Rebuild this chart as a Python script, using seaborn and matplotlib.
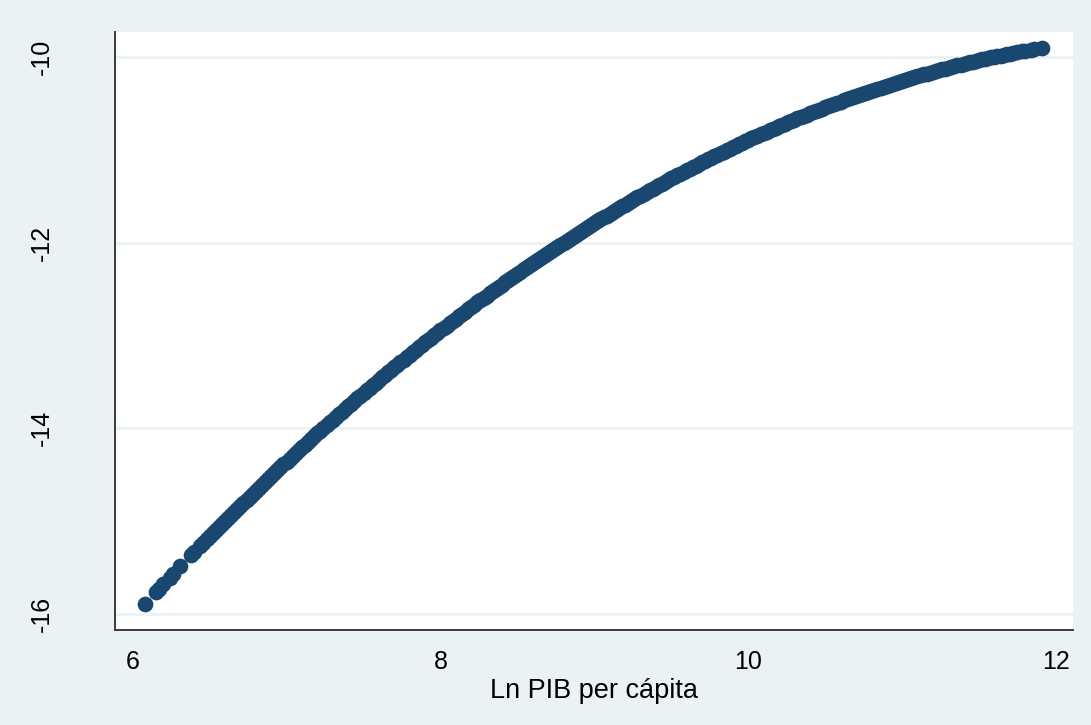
import matplotlib
matplotlib.use("Agg")
import matplotlib.pyplot as plt
import seaborn as sns
import pandas as pd

# Fitted values of log emissions against log GDP per capita (first set of observations)
ln_pib = [
    6.08, 6.15, 6.17, 6.20, 6.24, 6.26, 6.31, 6.38, 6.40,
    6.44, 6.48, 6.52, 6.56, 6.60, 6.64, 6.68, 6.72, 6.76, 6.80,
    6.84, 6.88, 6.92, 6.96, 7.00, 7.04, 7.08, 7.12, 7.16, 7.20,
    7.24, 7.28, 7.32, 7.36, 7.40, 7.44, 7.48, 7.52, 7.56, 7.60,
    7.64, 7.68, 7.72, 7.76, 7.80, 7.84, 7.88, 7.92, 7.96, 8.00,
    8.04, 8.08, 8.12, 8.16, 8.20, 8.24, 8.28, 8.32, 8.36, 8.40,
    8.44, 8.48, 8.52, 8.56, 8.60, 8.64, 8.68, 8.72, 8.76, 8.80,
    8.84, 8.88, 8.92, 8.96, 9.00, 9.04, 9.08, 9.12, 9.16, 9.20,
    9.24, 9.28, 9.32, 9.36, 9.40, 9.44, 9.48, 9.52, 9.56, 9.60,
    9.64, 9.68, 9.72, 9.76, 9.80, 9.84, 9.88, 9.92, 9.96, 10.00,
    10.04, 10.08, 10.12, 10.16, 10.20, 10.24, 10.28, 10.32, 10.36, 10.40,
    10.44, 10.48, 10.52, 10.56, 10.60, 10.64, 10.68, 10.72, 10.76, 10.80,
    10.84, 10.88, 10.92, 10.96, 11.00, 11.04, 11.08, 11.12, 11.16, 11.20,
    11.24, 11.28, 11.32, 11.36, 11.40, 11.44, 11.48, 11.52, 11.56, 11.60,
    11.64, 11.68, 11.72,
    11.75, 11.78, 11.80, 11.84, 11.86, 11.91,
]
ln_emis = [
    -15.891, -15.767, -15.731, -15.679, -15.609, -15.574, -15.488, -15.368, -15.334,
    -15.266, -15.198, -15.132, -15.065, -14.999, -14.933, -14.868, -14.803, -14.738, -14.674,
    -14.611, -14.548, -14.485, -14.422, -14.360, -14.299, -14.238, -14.177, -14.117, -14.057,
    -13.997, -13.938, -13.879, -13.821, -13.763, -13.706, -13.649, -13.592, -13.536, -13.480,
    -13.425, -13.370, -13.316, -13.262, -13.208, -13.155, -13.102, -13.049, -12.997, -12.946,
    -12.895, -12.844, -12.793, -12.743, -12.694, -12.645, -12.596, -12.548, -12.500, -12.452,
    -12.405, -12.359, -12.312, -12.267, -12.221, -12.176, -12.132, -12.087, -12.044, -12.000,
    -11.958, -11.915, -11.873, -11.831, -11.790, -11.749, -11.709, -11.669, -11.629, -11.590,
    -11.551, -11.513, -11.475, -11.437, -11.400, -11.364, -11.327, -11.291, -11.256, -11.221,
    -11.186, -11.152, -11.118, -11.085, -11.052, -11.019, -10.987, -10.956, -10.924, -10.893,
    -10.863, -10.833, -10.803, -10.774, -10.745, -10.717, -10.689, -10.661, -10.634, -10.607,
    -10.581, -10.555, -10.529, -10.504, -10.480, -10.455, -10.432, -10.408, -10.385, -10.363,
    -10.340, -10.318, -10.297, -10.276, -10.256, -10.236, -10.216, -10.197, -10.178, -10.159,
    -10.141, -10.124, -10.106, -10.090, -10.073, -10.057, -10.042, -10.026, -10.012, -9.997,
    -9.984, -9.970, -9.957,
    -9.947, -9.938, -9.932, -9.920, -9.914, -9.900,
]

# Second set of observations along the same fitted curve
ln_pib_b = [
    6.46, 6.50, 6.54, 6.58, 6.62, 6.66, 6.70, 6.74, 6.78, 6.82,
    6.86, 6.90, 6.94, 6.98, 7.02, 7.06, 7.10, 7.14, 7.18, 7.22,
    7.26, 7.30, 7.34, 7.38, 7.42, 7.46, 7.50, 7.54, 7.58, 7.62,
    7.66, 7.70, 7.74, 7.78, 7.82, 7.86, 7.90, 7.94, 7.98, 8.02,
    8.06, 8.10, 8.14, 8.18, 8.22, 8.26, 8.30, 8.34, 8.38, 8.42,
    8.46, 8.50, 8.54, 8.58, 8.62, 8.66, 8.70, 8.74, 8.78, 8.82,
    8.86, 8.90, 8.94, 8.98, 9.02, 9.06, 9.10, 9.14, 9.18, 9.22,
    9.26, 9.30, 9.34, 9.38, 9.42, 9.46, 9.50, 9.54, 9.58, 9.62,
    9.66, 9.70, 9.74, 9.78, 9.82, 9.86, 9.90, 9.94, 9.98, 10.02,
    10.06, 10.10, 10.14, 10.18, 10.22, 10.26, 10.30, 10.34, 10.38, 10.42,
    10.46, 10.50, 10.54, 10.58, 10.62, 10.66, 10.70, 10.74, 10.78, 10.82,
    10.86, 10.90, 10.94, 10.98, 11.02, 11.06, 11.10, 11.14, 11.18, 11.22,
    11.26, 11.30, 11.34, 11.38, 11.42, 11.46, 11.50, 11.54, 11.58, 11.62,
    11.66, 11.70,
]
ln_emis_b = [
    -15.232, -15.165, -15.098, -15.032, -14.966, -14.900, -14.835, -14.771, -14.706, -14.643,
    -14.579, -14.516, -14.454, -14.391, -14.330, -14.268, -14.207, -14.147, -14.087, -14.027,
    -13.968, -13.909, -13.850, -13.792, -13.735, -13.677, -13.621, -13.564, -13.508, -13.453,
    -13.398, -13.343, -13.289, -13.235, -13.181, -13.128, -13.076, -13.023, -12.972, -12.920,
    -12.869, -12.819, -12.768, -12.719, -12.669, -12.620, -12.572, -12.524, -12.476, -12.429,
    -12.382, -12.335, -12.289, -12.244, -12.199, -12.154, -12.109, -12.066, -12.022, -11.979,
    -11.936, -11.894, -11.852, -11.811, -11.770, -11.729, -11.689, -11.649, -11.610, -11.571,
    -11.532, -11.494, -11.456, -11.419, -11.382, -11.345, -11.309, -11.274, -11.238, -11.204,
    -11.169, -11.135, -11.102, -11.068, -11.036, -11.003, -10.971, -10.940, -10.909, -10.878,
    -10.848, -10.818, -10.789, -10.760, -10.731, -10.703, -10.675, -10.647, -10.620, -10.594,
    -10.568, -10.542, -10.517, -10.492, -10.467, -10.443, -10.420, -10.397, -10.374, -10.351,
    -10.329, -10.308, -10.287, -10.266, -10.246, -10.226, -10.206, -10.187, -10.168, -10.150,
    -10.132, -10.115, -10.098, -10.081, -10.065, -10.049, -10.034, -10.019, -10.004, -9.990,
    -9.977, -9.963,
]

x_ticks = [6, 8, 10, 12]
y_ticks = [-16, -14, -12, -10]
x_label = "Ln PIB per cápita"

outer_bg = "#EAF2F3"
navy = "#1A476F"
axis_col = "#3A3A3A"

sns.set_theme(style="white")
plt.rcParams["font.family"] = ["Liberation Sans", "DejaVu Sans"]
plt.rcParams["axes.unicode_minus"] = False

df = pd.DataFrame({
    "ln_pib": ln_pib + ln_pib_b,
    "ln_emis": ln_emis + ln_emis_b,
})

fig = plt.figure(figsize=(10.91, 7.25), dpi=100, facecolor=outer_bg)
ax = fig.add_axes([0.1054, 0.131, 0.878, 0.8249])
ax.set_facecolor("white")

sns.scatterplot(data=df, x="ln_pib", y="ln_emis", ax=ax, color=navy,
                s=128, linewidth=0, alpha=1, zorder=3, legend=False)

ax.set_xlim(5.885, 12.11)
ax.set_ylim(-16.175, -9.73)
ax.set_xticks(x_ticks)
ax.set_yticks(y_ticks)
ax.set_xticklabels([str(t) for t in x_ticks])
ax.set_yticklabels([str(t) for t in y_ticks], rotation=90, va="center")

ax.grid(axis="y", color=outer_bg, linewidth=2.0, zorder=1)
ax.grid(axis="x", visible=False)
ax.set_axisbelow(True)

for side in ("top", "right"):
    ax.spines[side].set_visible(False)
for side in ("left", "bottom"):
    ax.spines[side].set_color(axis_col)
    ax.spines[side].set_linewidth(1.4)

ax.tick_params(axis="both", direction="out", length=7.2, width=1.0,
               color=axis_col, labelsize=18, labelcolor="black")
ax.tick_params(axis="y", pad=37)
ax.tick_params(axis="x", pad=7)

ax.set_xlabel(x_label, fontsize=19.5, color="black", labelpad=3)
ax.set_ylabel("")

fig.savefig("out.png", dpi=100, facecolor=outer_bg)
